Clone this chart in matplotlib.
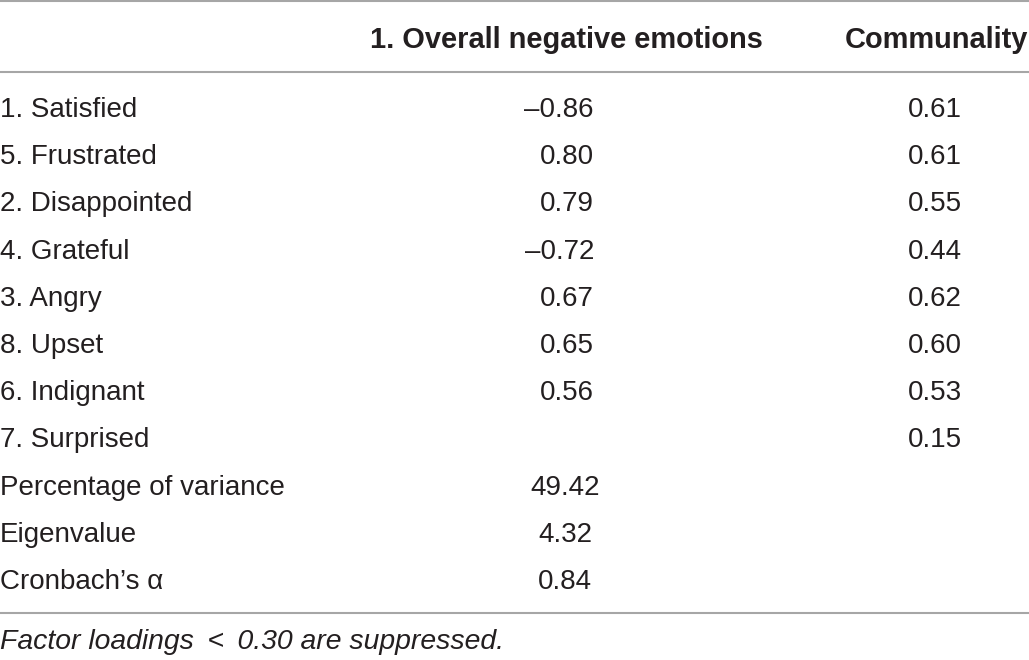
import matplotlib.pyplot as plt

plt.rcParams['font.family'] = ['Liberation Sans', 'DejaVu Sans']

header = ['1. Overall negative emotions', 'Communality']
items = ['1. Satisfied', '5. Frustrated', '2. Disappointed', '4. Grateful',
         '3. Angry', '8. Upset', '6. Indignant', '7. Surprised']
loadings = ['\u20130.86', '0.80', '0.79', '\u20130.72', '0.67', '0.65', '0.56', '']
communality = ['0.61', '0.61', '0.55', '0.44', '0.62', '0.60', '0.53', '0.15']
stat_labels = ['Percentage of variance', 'Eigenvalue', 'Cronbach\u2019s \u03b1']
stat_values = ['49.42', '4.32', '0.84']
note = 'Factor loadings \u2009<\u2009 0.30 are suppressed.'

txt = '#231f20'
line_c = '#a6a6a6'

fig = plt.figure(figsize=(10.29, 6.6), dpi=100)
ax = fig.add_axes([0, 0, 1, 1])
ax.set_xlim(0, 1029)
ax.set_ylim(660, 0)
ax.axis('off')

fs = 20
# header row
ax.text(566, 39.5, header[0], ha='center', va='center', fontsize=20.9, fontweight='bold', color=txt)
ax.text(936, 39.5, header[1], ha='center', va='center', fontsize=20.9, fontweight='bold', color=txt)

ax.axhline(1, color=line_c, lw=1.5)
ax.axhline(72, color=line_c, lw=1.5)
ax.axhline(613, color=line_c, lw=1.5)

y0 = 110
step = 47.2
for i, name in enumerate(items):
    y = y0 + i * step
    ax.text(0, y, name, ha='left', va='center', fontsize=fs, color=txt)
    ax.text(594, y, loadings[i], ha='right', va='center', fontsize=fs, color=txt)
    ax.text(935, y, communality[i], ha='center', va='center', fontsize=fs, color=txt)

for j, name in enumerate(stat_labels):
    y = y0 + (len(items) + j) * step
    ax.text(0, y, name, ha='left', va='center', fontsize=fs, color=txt)
    ax.text(565, y, stat_values[j], ha='center', va='center', fontsize=fs, color=txt)

ax.text(0, 642, note, ha='left', va='center', fontsize=20.4, style='italic', color=txt)

fig.savefig('out.png', dpi=100)
